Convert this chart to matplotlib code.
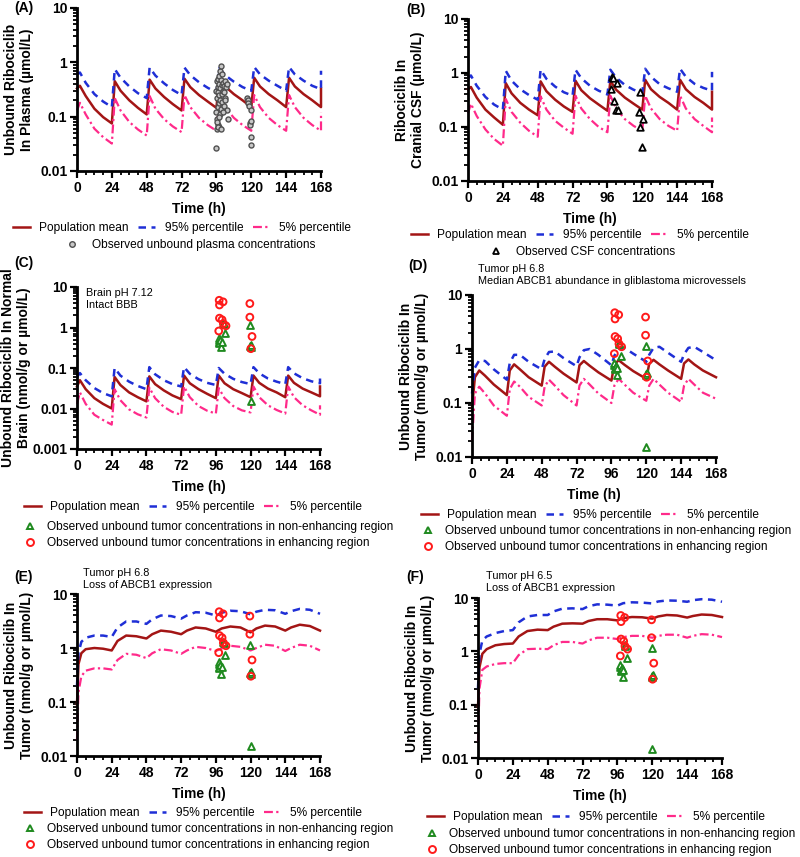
import numpy as np
import matplotlib
matplotlib.use('Agg')
import matplotlib.pyplot as plt
from matplotlib.ticker import FixedLocator, FuncFormatter, NullFormatter, MultipleLocator
from matplotlib.lines import Line2D

plt.rcParams['font.family'] = ['Liberation Sans', 'DejaVu Sans']

# time grid for panels A-C: trough, peak, +6h, +12h, +18h per dose, then 168 (trough, redose)
t_abc = [0, 2, 6, 12, 18, 24, 26, 30, 36, 42, 48, 50, 54, 60, 66, 72, 74, 78, 84, 90,
         96, 98, 102, 108, 114, 120, 122, 126, 132, 138, 144, 146, 150, 156, 162, 168, 168]

a_mean = [0.33, 0.37, 0.24, 0.14, 0.098, 0.075, 0.45, 0.30, 0.20, 0.145, 0.11, 0.48, 0.33, 0.23, 0.17,
          0.13, 0.50, 0.35, 0.25, 0.19, 0.145, 0.52, 0.36, 0.26, 0.20, 0.15, 0.52, 0.36, 0.26, 0.20,
          0.15, 0.52, 0.36, 0.26, 0.20, 0.15, 0.33]
a_p95 = [0.60, 0.65, 0.42, 0.26, 0.19, 0.15, 0.75, 0.52, 0.36, 0.27, 0.22, 0.80, 0.57, 0.41, 0.31,
         0.25, 0.80, 0.58, 0.43, 0.34, 0.28, 0.78, 0.58, 0.44, 0.35, 0.30, 0.82, 0.60, 0.46, 0.37,
         0.30, 0.82, 0.60, 0.46, 0.37, 0.32, 0.70]
a_p05 = [0.13, 0.18, 0.11, 0.06, 0.042, 0.032, 0.22, 0.13, 0.08, 0.058, 0.045, 0.24, 0.14, 0.09, 0.066,
         0.052, 0.25, 0.15, 0.095, 0.07, 0.055, 0.25, 0.15, 0.095, 0.07, 0.055, 0.25, 0.15, 0.095, 0.07,
         0.055, 0.25, 0.15, 0.095, 0.07, 0.055, 0.12]

b_mean = [0.50, 0.55, 0.35, 0.21, 0.15, 0.11, 0.65, 0.42, 0.28, 0.21, 0.165, 0.70, 0.46, 0.32, 0.24,
          0.19, 0.72, 0.48, 0.34, 0.26, 0.20, 0.72, 0.49, 0.35, 0.27, 0.21, 0.75, 0.50, 0.36, 0.28,
          0.21, 0.75, 0.50, 0.36, 0.28, 0.21, 0.45]
b_p95 = [0.80, 0.90, 0.58, 0.36, 0.26, 0.21, 1.10, 0.72, 0.50, 0.39, 0.32, 1.15, 0.78, 0.56, 0.44,
         0.38, 1.15, 0.80, 0.58, 0.47, 0.40, 1.15, 0.82, 0.60, 0.49, 0.43, 1.20, 0.85, 0.62, 0.52,
         0.45, 1.20, 0.85, 0.63, 0.53, 0.47, 1.05]
b_p05 = [0.18, 0.27, 0.16, 0.09, 0.06, 0.045, 0.33, 0.19, 0.12, 0.085, 0.066, 0.37, 0.21, 0.13, 0.097,
         0.075, 0.38, 0.22, 0.14, 0.10, 0.08, 0.38, 0.22, 0.14, 0.105, 0.085, 0.38, 0.22, 0.14, 0.105,
         0.085, 0.38, 0.22, 0.14, 0.105, 0.08, 0.15]

c_mean = [0.035, 0.05, 0.03, 0.018, 0.013, 0.010, 0.06, 0.038, 0.025, 0.019, 0.015, 0.062, 0.04, 0.028, 0.021,
          0.017, 0.065, 0.042, 0.03, 0.023, 0.018, 0.065, 0.042, 0.03, 0.024, 0.019, 0.065, 0.043, 0.031, 0.025,
          0.019, 0.065, 0.043, 0.031, 0.025, 0.02, 0.035]
c_p95 = [0.06, 0.075, 0.05, 0.032, 0.024, 0.02, 0.10, 0.065, 0.046, 0.036, 0.03, 0.105, 0.07, 0.05, 0.04,
         0.035, 0.105, 0.072, 0.053, 0.043, 0.038, 0.10, 0.072, 0.054, 0.045, 0.04, 0.105, 0.074, 0.055, 0.046,
         0.04, 0.105, 0.074, 0.056, 0.047, 0.042, 0.055]
c_p05 = [0.013, 0.025, 0.013, 0.007, 0.0052, 0.004, 0.03, 0.016, 0.0095, 0.0072, 0.006, 0.033, 0.018, 0.011, 0.0082,
         0.007, 0.035, 0.019, 0.0115, 0.0088, 0.0075, 0.032, 0.018, 0.0115, 0.009, 0.008, 0.035, 0.019, 0.012, 0.0092,
         0.0075, 0.035, 0.019, 0.012, 0.009, 0.007, 0.012]

# time grid for panel D (slower rise in tumor)
t_d = [0, 2, 5, 9, 15, 24, 26, 29, 33, 39, 48, 50, 53, 57, 63, 72, 74, 77, 81, 87,
       96, 98, 101, 105, 111, 120, 122, 125, 129, 135, 144, 146, 149, 153, 159, 168]
d_mean = [0.08, 0.30, 0.40, 0.32, 0.22, 0.14, 0.40, 0.52, 0.42, 0.30, 0.21, 0.47, 0.58, 0.47, 0.35,
          0.24, 0.50, 0.60, 0.49, 0.37, 0.26, 0.52, 0.62, 0.51, 0.39, 0.28, 0.53, 0.63, 0.52, 0.40,
          0.28, 0.54, 0.64, 0.52, 0.40, 0.30]
d_p95 = [0.15, 0.45, 0.62, 0.60, 0.42, 0.27, 0.55, 0.78, 0.78, 0.58, 0.42, 0.65, 0.88, 0.90, 0.68,
         0.48, 0.70, 0.95, 1.00, 0.78, 0.50, 0.75, 1.00, 1.05, 0.82, 0.58, 0.78, 1.05, 1.10, 0.85,
         0.58, 0.80, 1.05, 1.10, 0.88, 0.62]
d_p05 = [0.02, 0.15, 0.20, 0.15, 0.09, 0.058, 0.18, 0.25, 0.20, 0.13, 0.09, 0.20, 0.27, 0.21, 0.14,
         0.09, 0.21, 0.28, 0.22, 0.15, 0.10, 0.21, 0.28, 0.22, 0.155, 0.11, 0.21, 0.28, 0.22, 0.155,
         0.105, 0.21, 0.28, 0.22, 0.155, 0.12]

# time grid for panels E-F (accumulation without ABCB1)
t_ef = [0, 1, 3, 6, 12, 18, 24, 28, 34, 41, 48, 52, 58, 65, 72, 76, 82, 89,
        96, 100, 106, 113, 120, 124, 130, 137, 144, 148, 154, 161, 168]
e_mean = [0.09, 0.5, 0.8, 0.95, 1.0, 0.97, 0.9, 1.35, 1.7, 1.65, 1.5, 1.8, 2.1, 2.0, 1.8, 2.1, 2.4, 2.3,
          2.0, 2.3, 2.5, 2.4, 1.95, 2.3, 2.6, 2.5, 2.1, 2.4, 2.7, 2.55, 2.1]
e_p95 = [0.2, 0.8, 1.3, 1.55, 1.7, 1.7, 1.6, 2.4, 3.1, 3.1, 2.8, 3.4, 4.0, 3.9, 3.5, 4.0, 4.6, 4.5,
         4.0, 4.5, 4.9, 4.8, 4.2, 4.7, 5.1, 5.0, 4.3, 4.8, 5.3, 5.1, 4.3]
e_p05 = [0.02, 0.15, 0.3, 0.38, 0.42, 0.42, 0.4, 0.6, 0.78, 0.75, 0.65, 0.8, 0.95, 0.9, 0.78, 0.9, 1.05, 1.0,
         0.88, 0.98, 1.1, 1.05, 0.9, 1.0, 1.15, 1.1, 0.88, 1.0, 1.15, 1.1, 0.9]
f_mean = [0.09, 0.5, 0.9, 1.1, 1.3, 1.37, 1.4, 1.9, 2.4, 2.55, 2.5, 2.9, 3.3, 3.35, 3.3, 3.7, 4.0, 4.0,
          3.8, 4.2, 4.4, 4.35, 4.1, 4.5, 4.8, 4.7, 4.3, 4.6, 4.9, 4.8, 4.4]
f_p95 = [0.2, 0.9, 1.6, 1.9, 2.2, 2.4, 2.5, 3.5, 4.5, 4.8, 4.8, 5.6, 6.3, 6.4, 6.2, 7.0, 7.6, 7.5,
         7.2, 8.0, 8.3, 8.2, 7.9, 8.6, 9.0, 8.9, 8.5, 9.1, 9.5, 9.3, 8.5]
f_p05 = [0.02, 0.2, 0.45, 0.52, 0.58, 0.6, 0.6, 0.85, 1.1, 1.12, 1.1, 1.3, 1.5, 1.5, 1.4, 1.6, 1.8, 1.8,
         1.7, 1.85, 1.95, 1.95, 1.8, 1.95, 2.05, 2.05, 1.8, 1.95, 2.1, 2.05, 1.85]

# observations
plasma_t = [96.0, 96.0, 96.2, 96.4, 96.5, 96.6, 96.8, 97.0, 97.0, 97.2, 97.3,
            97.5, 97.6, 97.8, 98.0, 98.0, 98.2, 98.4, 98.5, 98.7, 99.0, 99.0,
            99.2, 99.5, 99.6, 100.0, 100.0, 100.3, 100.5, 101.0, 101.0, 101.5, 102.0,
            102.0, 102.5, 103.0, 103.5, 104.0, 96.3, 97.1, 98.1, 99.3, 100.8, 101.8,
            95.8, 117.0, 117.5, 118.0, 118.5, 119.0, 119.0, 119.5, 119.5, 120.0, 120.0]
plasma_v = [0.30, 0.12, 0.45, 0.06, 0.22, 0.09, 0.35, 0.50, 0.15, 0.07, 0.28,
            0.40, 0.18, 0.065, 0.55, 0.25, 0.11, 0.70, 0.33, 0.20, 0.85, 0.48,
            0.14, 0.38, 0.26, 0.60, 0.19, 0.42, 0.30, 0.36, 0.16, 0.28, 0.45,
            0.22, 0.35, 0.13, 0.40, 0.09, 0.08, 0.065, 0.10, 0.06, 0.12, 0.20,
            0.026, 0.22, 0.20, 0.18, 0.16, 0.075, 0.07, 0.082, 0.042, 0.03, 0.13]
csf_t = [98.9, 99.5, 102.4, 98.2, 100.8, 101.9, 103.5, 118.0, 118.4, 120.3, 118.4, 119.6]
csf_v = [0.85, 0.80, 0.65, 0.50, 0.30, 0.21, 0.21, 0.19, 0.45, 0.14, 0.10, 0.042]
nonenh_t = [98.0, 98.0, 98.3, 98.5, 99.0, 99.5, 100.0, 101.0, 101.5, 102.5, 119.5, 119.5, 120.0, 120.3, 120.0]
nonenh_v = [0.50, 0.55, 0.45, 0.42, 0.48, 0.33, 0.44, 1.30, 1.25, 0.75, 1.15, 0.35, 0.33, 0.36, 0.015]
enh_t = [98.3, 98.5, 101.0, 98.5, 100.3, 101.2, 103.0, 98.0, 119.5, 119.5, 120.2, 121.0]
enh_v = [4.7, 3.6, 4.3, 1.7, 1.55, 1.25, 1.1, 0.82, 3.9, 1.8, 0.3, 0.6]

MEAN_C = '#a31515'
P95_C = '#1f2fd6'
P05_C = '#ff2a8a'
W, H = 800, 857
LEG_FS = 8.6
NOTE_FS = 7.8


def fig_box(x0, x1, y_top, y_bot):
    return [x0 / W, 1 - y_bot / H, (x1 - x0) / W, (y_bot - y_top) / H]


def setup_axis(ax, ymin, ymax, ylabel, ylabelpad=4):
    ax.set_yscale('log')
    ax.set_xlim(0, 168)
    ax.set_ylim(ymin, ymax)
    ax.xaxis.set_major_locator(MultipleLocator(24))
    ax.xaxis.set_minor_locator(MultipleLocator(6))
    majors = [10.0 ** k for k in range(int(round(np.log10(ymin))), int(round(np.log10(ymax))) + 1)]
    ax.yaxis.set_major_locator(FixedLocator(majors))
    ax.yaxis.set_major_formatter(FuncFormatter(lambda v, p: '%g' % v))
    ax.yaxis.set_minor_formatter(NullFormatter())
    for s in ['top', 'right']:
        ax.spines[s].set_visible(False)
    for s in ['left', 'bottom']:
        ax.spines[s].set_linewidth(2)
    ax.tick_params(which='major', direction='out', length=5, width=1.6, labelsize=10, pad=2)
    ax.tick_params(which='minor', direction='out', length=3, width=1.3)
    for lab in ax.get_xticklabels() + ax.get_yticklabels():
        lab.set_fontweight('bold')
    ax.set_xlabel('Time (h)', fontsize=10, fontweight='bold', labelpad=5)
    ax.set_ylabel(ylabel, fontsize=10, fontweight='bold', labelpad=ylabelpad, linespacing=1.2)


def draw_curves(ax, t, mean, p95, p05):
    ax.plot(t, mean, color=MEAN_C, lw=1.8, clip_on=False)
    ax.plot(t, p95, color=P95_C, lw=1.8, ls=(0, (3, 2.2)), clip_on=False)
    ax.plot(t, p05, color=P05_C, lw=1.6, ls=(0, (4, 1.5, 1, 1.5)), clip_on=False)


def line_legend(fig, xc, y_top):
    handles = [Line2D([], [], color=MEAN_C, lw=1.8),
               Line2D([], [], color=P95_C, lw=1.8, ls=(0, (3, 2.2))),
               Line2D([], [], color=P05_C, lw=1.6, ls=(0, (4, 1.5, 1, 1.5)))]
    labels = ['Population mean', '95% percentile', '5% percentile']
    fig.legend(handles, labels, loc='upper center', bbox_to_anchor=(xc / W, 1 - y_top / H),
               ncol=3, frameon=False, fontsize=LEG_FS, handlelength=1.4, handletextpad=0.8,
               columnspacing=0.8, borderpad=0, borderaxespad=0)


def tumor_legend(fig, x0, y_top):
    handles = [Line2D([], [], ls='none', marker='^', mfc='white', mec='#1f8a1f', mew=1.4, ms=5),
               Line2D([], [], ls='none', marker='o', mfc='white', mec='#ff1a1a', mew=1.4, ms=5)]
    labels = ['Observed unbound tumor concentrations in non-enhancing region',
              'Observed unbound tumor concentrations in enhancing region']
    fig.legend(handles, labels, loc='upper left', bbox_to_anchor=(x0 / W, 1 - y_top / H),
               frameon=False, fontsize=LEG_FS, handlelength=1.3, handletextpad=0.8,
               labelspacing=0.35, borderpad=0, borderaxespad=0)


def tumor_points(ax):
    ax.scatter(nonenh_t, nonenh_v, marker='^', s=24, facecolors='white', edgecolors='#1f8a1f',
               linewidths=1.4, zorder=5, clip_on=False)
    ax.scatter(enh_t, enh_v, marker='o', s=24, facecolors='none', edgecolors='#ff1a1a',
               linewidths=1.4, zorder=6, clip_on=False)


fig = plt.figure(figsize=(8, 8.57), dpi=100)

# (A) plasma
axA = fig.add_axes(fig_box(77, 321, 8, 171))
draw_curves(axA, t_abc, a_mean, a_p95, a_p05)
axA.scatter(plasma_t, plasma_v, marker='o', s=13, facecolors='#c8c8c8', edgecolors='#505050',
            linewidths=1.0, zorder=5)
setup_axis(axA, 0.01, 10, 'Unbound Ribociclib\nIn Plasma (µmol/L)')
line_legend(fig, 182, 222)
fig.legend([Line2D([], [], ls='none', marker='o', mfc='#c8c8c8', mec='#505050', mew=1.0, ms=4)],
           ['Observed unbound plasma concentrations'], loc='upper center',
           bbox_to_anchor=(190 / W, 1 - 239 / H), frameon=False, fontsize=LEG_FS,
           handlelength=1.3, handletextpad=1.0, borderpad=0, borderaxespad=0)
fig.text(14 / W, 1 - 8 / H, '(A)', fontsize=10, fontweight='bold', va='center')

# (B) CSF
axB = fig.add_axes(fig_box(468, 712, 19, 181))
draw_curves(axB, t_abc, b_mean, b_p95, b_p05)
axB.scatter(csf_t, csf_v, marker='^', s=22, facecolors='white', edgecolors='black',
            linewidths=1.3, zorder=5)
setup_axis(axB, 0.01, 10, 'Ribociclib In\nCranial CSF (µmol/L)')
line_legend(fig, 580, 229)
fig.legend([Line2D([], [], ls='none', marker='^', mfc='white', mec='black', mew=1.3, ms=5)],
           ['Observed CSF concentrations'], loc='upper center',
           bbox_to_anchor=(582 / W, 1 - 246 / H), frameon=False, fontsize=LEG_FS,
           handlelength=1.3, handletextpad=1.0, borderpad=0, borderaxespad=0)
fig.text(406 / W, 1 - 10 / H, '(B)', fontsize=10, fontweight='bold', va='center')

# (C) normal brain
axC = fig.add_axes(fig_box(77, 320, 287, 449))
draw_curves(axC, t_abc, c_mean, c_p95, c_p05)
tumor_points(axC)
setup_axis(axC, 0.001, 10, 'Unbound Ribociclib In Normal\nBrain (nmol/g or µmol/L)', ylabelpad=1)
axC.text(0.035, 0.995, 'Brain pH 7.12\nIntact BBB', transform=axC.transAxes, fontsize=NOTE_FS,
         va='top', ha='left', linespacing=1.25)
line_legend(fig, 193, 501)
tumor_legend(fig, 22, 521)
fig.text(14 / W, 1 - 263 / H, '(C)', fontsize=10, fontweight='bold', va='center')

# (D) tumor, median ABCB1
axD = fig.add_axes(fig_box(472, 716, 295, 457))
draw_curves(axD, t_d, d_mean, d_p95, d_p05)
tumor_points(axD)
setup_axis(axD, 0.01, 10, 'Unbound Ribociclib In\nTumor (nmol/g or µmol/L)')
fig.text(478 / W, 1 - 264 / H, 'Tumor pH 6.8\nMedian ABCB1 abundance in gliblastoma microvessels',
         fontsize=NOTE_FS, va='top', ha='left', linespacing=1.25)
line_legend(fig, 590, 509)
tumor_legend(fig, 420, 525)
fig.text(408 / W, 1 - 266 / H, '(D)', fontsize=10, fontweight='bold', va='center')

# (E) tumor pH 6.8, loss of ABCB1
axE = fig.add_axes(fig_box(77, 320, 594, 756))
draw_curves(axE, t_ef, e_mean, e_p95, e_p05)
tumor_points(axE)
setup_axis(axE, 0.01, 10, 'Unbound Ribociclib In\nTumor (nmol/g or µmol/L)')
fig.text(83 / W, 1 - 568 / H, 'Tumor pH 6.8\nLoss of ABCB1 expression',
         fontsize=NOTE_FS, va='top', ha='left', linespacing=1.25)
line_legend(fig, 193, 807)
tumor_legend(fig, 22, 823)
fig.text(14 / W, 1 - 577 / H, '(E)', fontsize=10, fontweight='bold', va='center')

# (F) tumor pH 6.5, loss of ABCB1
axF = fig.add_axes(fig_box(478, 722, 598, 758))
draw_curves(axF, t_ef, f_mean, f_p95, f_p05)
tumor_points(axF)
setup_axis(axF, 0.01, 10, 'Unbound Ribociclib In\nTumor (nmol/g or µmol/L)')
fig.text(486 / W, 1 - 571 / H, 'Tumor pH 6.5\nLoss of ABCB1 expression',
         fontsize=NOTE_FS, va='top', ha='left', linespacing=1.25)
line_legend(fig, 596, 811)
tumor_legend(fig, 424, 828)
fig.text(406 / W, 1 - 577 / H, '(F)', fontsize=10, fontweight='bold', va='center')

fig.savefig('out.png', dpi=100)
